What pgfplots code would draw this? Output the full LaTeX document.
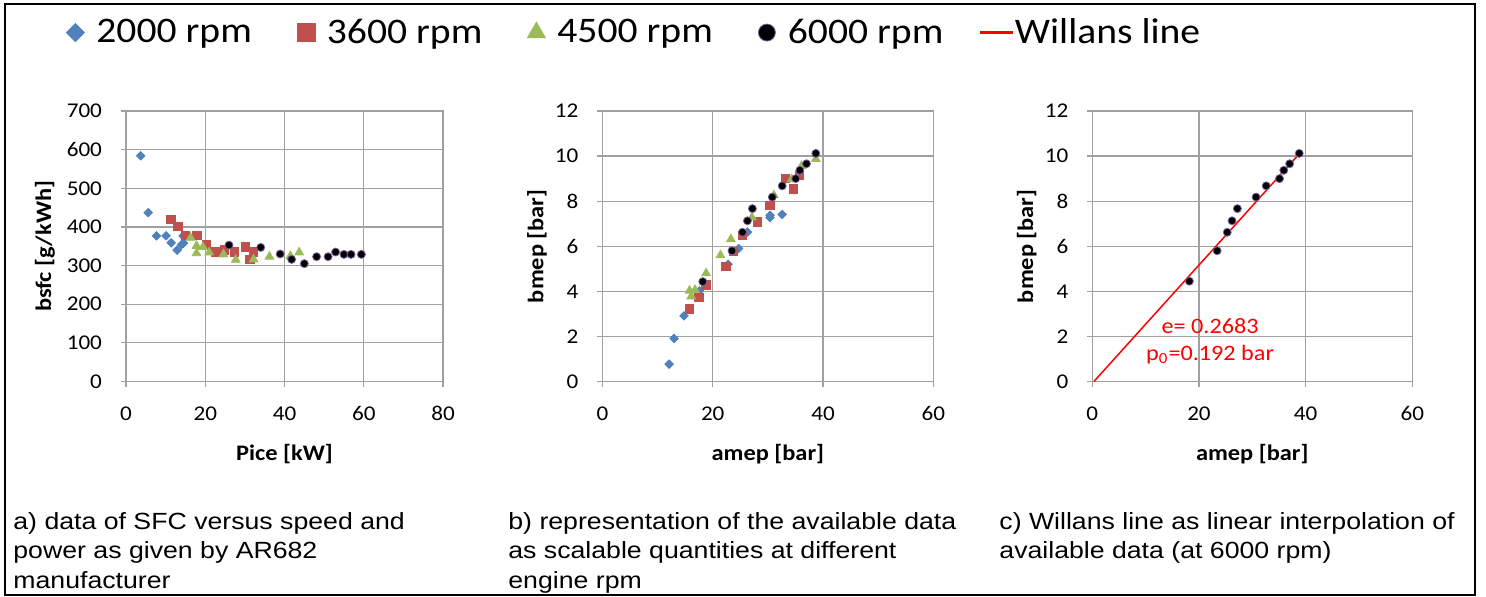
\documentclass[border=0pt]{standalone}
\usepackage{fontspec}
\setmainfont{Carlito}[FakeStretch=1.1]
\newfontfamily\arial{Liberation Sans}[FakeStretch=1.14]
\usepackage{pgfplots}
\pgfplotsset{compat=1.18}
\definecolor{gridgray}{HTML}{A0A0A0}
\definecolor{xblue}{HTML}{4F81BD}
\definecolor{xred}{HTML}{C0504D}
\definecolor{xgreen}{HTML}{9BBB59}
\definecolor{xpurple}{HTML}{7A62A0}
\pgfplotsset{
  exc/.style={
    scale only axis, anchor=south west, enlargelimits=false,
    axis line style={gridgray, line width=0.6pt},
    grid=major, major grid style={gridgray, line width=0.6pt},
    tick align=outside, major tick length=2.5pt,
    tick style={gridgray, line width=0.6pt},
    xtick pos=left, ytick pos=left,
    /pgf/number format/assume math mode=true,
    tick label style={font=\fontsize{10.5}{12}\selectfont},
    xticklabel shift=6.5pt, yticklabel shift=6pt,
    label style={font=\fontsize{11.1}{13}\selectfont\bfseries},
  },
  mklegend/.style={legend image code/.code={\path[draw=none, fill=none] (-5pt,0pt) -- (8.5pt,0pt); \draw[##1] plot coordinates {(0pt,0pt)};}},
  lnlegend/.style={legend image code/.code={\path[draw=none, fill=none] (0pt,0pt) -- (15.5pt,0pt); \draw[##1, overlay] (0pt,0pt) -- (16.5pt,0pt);}},
  s2000/.style={only marks, xblue, mark=square*, mark size=1.5pt, mark options={rotate=45}, mklegend, legend image post style={mark size=3.2pt}},
  s3600/.style={only marks, xred, mark=square*, mark size=2.1pt, mklegend, legend image post style={mark size=4.5pt}},
  s4500/.style={only marks, xgreen, mark=triangle*, mark size=2.5pt, mklegend, legend image post style={mark size=5.2pt}},
  s6000/.style={only marks, mark=*, mark size=2pt, mark options={fill=black, draw=xpurple, line width=0.4pt}, mklegend, legend image post style={mark size=4.25pt}},
}
\begin{document}
\begin{tikzpicture}
\useasboundingbox (0,0) rectangle (743pt,298pt);
% ---------- panel a ----------
\begin{axis}[exc, at={(63pt,107.25pt)}, width=158.5pt, height=135.25pt,
  xmin=0, xmax=80, ymin=0, ymax=700,
  xtick={0,20,40,60,80}, ytick={0,100,200,300,400,500,600,700},
  xlabel={Pice [kW]}, ylabel={bsfc [g/kWh]},
  xlabel style={at={(axis description cs:0.5,-0.2926)}, anchor=base},
  ylabel style={at={(axis description cs:-0.2555,0.5)}, anchor=center},
  legend columns=5, legend cell align=left,
  legend style={at={(axis description cs:-0.1924,1.29)}, anchor=west, draw=none, fill=none,
    inner xsep=0pt, inner ysep=0pt, font=\fontsize{18}{21}\selectfont},
]
\addplot[s2000] coordinates {(3.7,584) (5.6,437) (7.7,377) (10.1,377) (11.4,359) (12.9,340) (14.0,354) (14.5,358) (14.4,377)};
\addlegendentry{\makebox[97.75pt][l]{2000 rpm}}
\addplot[s3600] coordinates {(11.3,420) (13.1,402) (15.0,378) (17.9,378) (20.3,353) (22.7,335) (24.8,341) (27.4,335) (30.1,348) (32.2,335) (31.3,316)};
\addlegendentry{\makebox[97.75pt][l]{3600 rpm}}
\addplot[s4500] coordinates {(16.3,372) (17.8,351) (19.4,348) (17.8,332) (21.0,334) (24.6,329) (27.7,315) (32.2,316) (36.2,323) (41.5,325) (43.7,334)};
\addlegendentry{\makebox[97.75pt][l]{4500 rpm}}
\addplot[s6000] coordinates {(26.0,353) (34.0,347) (38.9,330) (41.8,316) (45.0,305) (48.1,323) (51.0,323) (52.9,335) (55.0,329) (56.8,329) (59.4,329)};
\addlegendentry{\makebox[94pt][l]{6000 rpm}}
\addlegendimage{red, line width=1.1pt, lnlegend}
\addlegendentry{Willans line}
\end{axis}
% ---------- panel b ----------
\begin{axis}[exc, at={(301.2pt,107.25pt)}, width=165.45pt, height=135.25pt,
  xmin=0, xmax=60, ymin=0, ymax=12,
  xtick={0,20,40,60}, ytick={0,2,4,6,8,10,12},
  xlabel={amep [bar]}, ylabel={bmep [bar]},
  xlabel style={at={(axis description cs:0.5,-0.2926)}, anchor=base},
  ylabel style={at={(axis description cs:-0.198,0.5)}, anchor=center},
]
\addplot[s2000] coordinates {(12.1,0.77) (13.0,1.91) (14.8,2.91) (17.6,4.02) (22.8,5.2) (24.7,5.9) (26.3,6.63) (30.4,7.27) (30.4,7.37) (32.6,7.41)};
\addplot[s3600] coordinates {(15.8,3.22) (17.5,3.74) (18.8,4.28) (22.4,5.11) (23.7,5.76) (25.4,6.48) (28.1,7.08) (30.4,7.81) (34.6,8.54) (33.2,9.0) (35.7,9.14)};
\addplot[s4500] coordinates {(16.1,3.77) (15.8,4.03) (16.8,4.06) (18.8,4.8) (21.4,5.6) (23.3,6.31) (27.1,7.28) (31.1,8.26) (34.3,8.97) (36.1,9.56) (38.7,9.87)};
\addplot[s6000] coordinates {(18.2,4.43) (23.5,5.8) (25.4,6.62) (26.3,7.13) (27.2,7.67) (30.8,8.18) (32.6,8.68) (35.05,9.0) (35.8,9.37) (37.0,9.66) (38.7,10.12)};
\end{axis}
% ---------- panel c ----------
\begin{axis}[exc, at={(546.15pt,107.25pt)}, width=160pt, height=135.25pt,
  xmin=0, xmax=60, ymin=0, ymax=12,
  xtick={0,20,40,60}, ytick={0,2,4,6,8,10,12},
  xlabel={amep [bar]}, ylabel={bmep [bar]},
  xlabel style={at={(axis description cs:0.5,-0.2926)}, anchor=base},
  ylabel style={at={(axis description cs:-0.205,0.5)}, anchor=center},
]
\addplot[red, line width=0.75pt] coordinates {(0.3,0) (39.0,10.15)};
\addplot[s6000] coordinates {(18.2,4.45) (23.4,5.8) (25.3,6.62) (26.2,7.13) (27.2,7.67) (30.7,8.18) (32.6,8.68) (35.1,9.0) (35.9,9.37) (37.0,9.66) (38.8,10.12)};
\node[red, anchor=base, inner sep=0pt, font=\fontsize{11}{13}\selectfont] at (axis cs:22.08,2.11) {e= 0.2683};
\node[red, anchor=base, inner sep=0pt, font=\fontsize{11}{13}\selectfont] at (axis cs:22.08,0.93) {p\textsubscript{0}=0.192 bar};
\end{axis}
% ---------- captions ----------
\begin{scope}[every node/.style={anchor=base west, inner sep=0pt, font=\arial\fontsize{11.7}{14}\selectfont}]
\node at (6.5pt,33.5pt) {a) data of SFC versus speed and};
\node at (6.5pt,18.75pt) {power as given by AR682};
\node at (6.5pt,4pt) {manufacturer};
\node at (254pt,33.5pt) {b) representation of the available data};
\node at (254pt,18.75pt) {as scalable quantities at different};
\node at (254pt,4pt) {engine rpm};
\node at (499.5pt,33.5pt) {c) Willans line as linear interpolation of};
\node at (499.5pt,18.75pt) {available data (at 6000 rpm)};
\end{scope}
\draw[line width=1pt] (2.5pt,0.35pt) rectangle (737.25pt,295.85pt);
\end{tikzpicture}
\end{document}
